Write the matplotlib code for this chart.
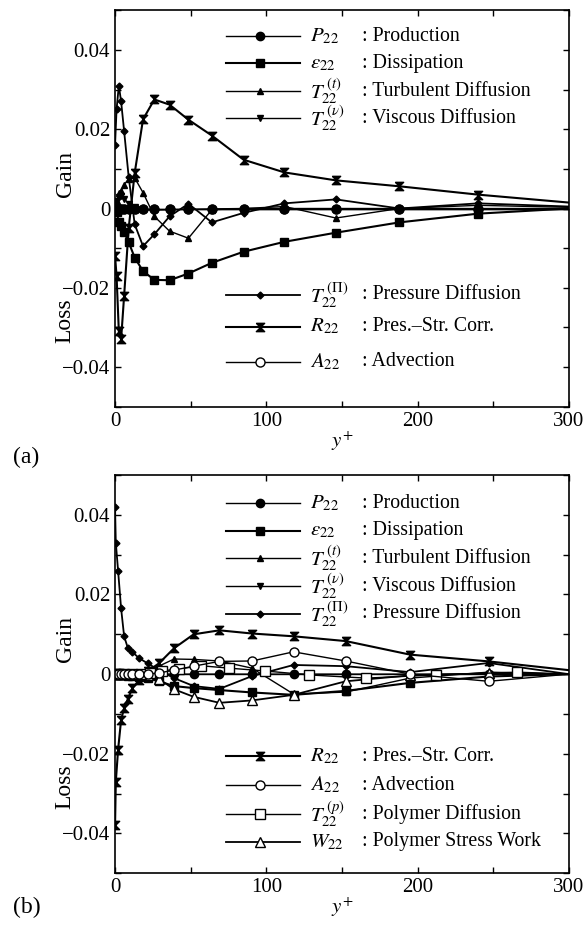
import matplotlib
matplotlib.use("Agg")
import matplotlib.pyplot as plt
from matplotlib.lines import Line2D
from matplotlib.ticker import MultipleLocator

plt.rcParams['font.family'] = ['Liberation Serif', 'DejaVu Serif']
plt.rcParams['mathtext.fontset'] = 'stix'

# (a) wall distance of the sampled points
y_a = [0, 1, 2.5, 4, 6, 9, 13, 18.5, 26, 36, 48.5, 64, 85, 112, 146, 188, 240, 300]
P_a = [0] * len(y_a)
eps_a = [0, -0.001, -0.0033, -0.0045, -0.006, -0.0085, -0.0124, -0.0158, -0.018,
         -0.0181, -0.0164, -0.0137, -0.0109, -0.0084, -0.0061, -0.0035, -0.0013, 0]
Tt_a = [0, 0.002, 0.004, 0.0045, 0.006, 0.0075, 0.0077, 0.004, -0.002, -0.0057,
        -0.0075, -0.0003, 0, 0.0005, -0.0024, 0, 0.0008, 0.0003]
Tv_a = [0, 0.002, 0.003, 0.0032, 0.0025, 0.0012, 0.0003, -0.0003, -0.0004, -0.0003,
        -0.0002, -0.0001, 0, 0, 0, 0, 0, 0]
Tpi_a = [0.016, 0.025, 0.031, 0.027, 0.0195, 0.008, -0.004, -0.0095, -0.0065, -0.002,
         0.0012, -0.0035, -0.0011, 0.0013, 0.0023, 0, 0.0013, 0.0005]
R_a = [-0.012, -0.017, -0.031, -0.033, -0.022, -0.005, 0.009, 0.0225, 0.0275, 0.0262,
       0.0224, 0.0184, 0.0123, 0.0091, 0.0071, 0.0056, 0.0035, 0.0015]
A_a = [0] * len(y_a)

# (b)
y_b = [0, 0.5, 2, 4, 6, 8.5, 11.5, 16, 21.5, 29, 39, 52, 69, 90.5, 118, 152.5, 195, 247, 300]
P_b = [0] * len(y_b)
eps_b = [0, 0, -0.0001, -0.0002, -0.0003, -0.0004, -0.0005, -0.0007, -0.001, -0.0018,
         -0.003, -0.0035, -0.004, -0.0046, -0.0052, -0.0042, -0.0022, -0.0006, 0]
Tt_b = [0, 0, 0, 0, 0, 0.0001, 0.0002, 0.0005, 0.001, 0.002, 0.0038, 0.0037, 0.0033,
        0.0015, -0.005, -0.0045, -0.001, 0.0005, 0]
Tv_b = [0, 0.0003, 0.0005, 0.0005, 0.0004, 0.0003, 0.0002, 0.0001, 0, 0, 0, 0, 0,
        0, 0, 0, 0, 0, 0]
Tpi_b = [0.042, 0.033, 0.026, 0.0165, 0.0095, 0.0065, 0.0055, 0.004, 0.0027, 0.001,
         -0.001, -0.003, -0.0037, -0.0005, 0.0023, 0.002, 0.0005, 0.0028, 0]
R_b = [-0.038, -0.027, -0.019, -0.0115, -0.0085, -0.0062, -0.0035, -0.0015, 0.0007,
       0.0027, 0.0065, 0.0100, 0.0110, 0.0102, 0.0095, 0.0083, 0.0049, 0.0032, 0.0010]
A_b = [0, 0, 0, 0, 0, 0, 0, 0, 0, 0.0003, 0.001, 0.002, 0.0032, 0.0033, 0.0056,
       0.0033, 0, -0.0018, 0]
W_b = [0, 0, 0, 0, 0, 0, 0, 0, -0.0003, -0.0012, -0.0038, -0.0057, -0.0072, -0.0066,
       -0.0052, -0.0018, -0.0003, 0.0002, 0]
y_p = [0, 2, 6, 11.5, 17, 23, 31, 42, 57, 75.5, 99, 128.5, 166, 212, 266, 300]
Tp_b = [0, 0, 0, 0, 0, 0.0002, 0.0008, 0.0013, 0.0021, 0.0015, 0.0008, -0.0002,
        -0.001, -0.0002, 0.0005, 0]

hourglass = [(-1, 1), (1, 1), (-1, -1), (1, -1), (-1, 1)]

# name -> (symbol, description, marker, size, filled, linewidth)
styles = {
    'P': (r'$P_{22}$', ': Production', 'o', 6, True, 1.0),
    'eps': (r'$\varepsilon_{22}$', ': Dissipation', 's', 6, True, 1.5),
    'Tt': (r'$T_{22}^{\;(t)}$', ': Turbulent Diffusion', '^', 5, True, 1.0),
    'Tv': (r'$T_{22}^{\;(\nu)}$', ': Viscous Diffusion', 'v', 5, True, 1.0),
    'Tpi': (r'$T_{22}^{\;(\Pi)}$', ': Pressure Diffusion', 'D', 3.5, True, 1.3),
    'R': (r'$R_{22}$', ': Pres.\u2013Str. Corr.', hourglass, 6, True, 1.5),
    'A': (r'$A_{22}$', ': Advection', 'o', 6.5, False, 1.0),
    'Tp': (r'$T_{22}^{\;(p)}$', ': Polymer Diffusion', 's', 6.5, False, 1.0),
    'W': (r'$W_{22}$', ': Polymer Stress Work', '^', 6.5, False, 1.3),
}


def line_kw(key):
    sym, desc, mk, ms, filled, lw = styles[key]
    return dict(color='black', lw=lw, marker=mk, ms=ms,
                mfc='black' if filled else 'white', mec='black', mew=1.0)


def draw_series(ax, x, y, key):
    ax.plot(x, y, markevery=slice(0, -1), clip_on=True, **line_kw(key))


def draw_legend(ax, keys, rows):
    for key, yy in zip(keys, rows):
        sym, desc = styles[key][0], styles[key][1]
        ax.add_line(Line2D([0.244, 0.407], [yy, yy], transform=ax.transAxes,
                           markevery=[], **line_kw(key)))
        ax.add_line(Line2D([0.319], [yy], transform=ax.transAxes,
                           **{k: v for k, v in line_kw(key).items() if k != 'lw'},
                           lw=0))
        ax.text(0.43, yy, sym, transform=ax.transAxes, fontsize=15, va='center')
        ax.text(0.544, yy, desc, transform=ax.transAxes, fontsize=14.3, va='center')


def style_axes(ax, tag, tag_y):
    ax.set_xlim(0, 300)
    ax.set_ylim(-0.05, 0.05)
    ax.set_xticks([0, 100, 200, 300])
    ax.set_yticks([-0.04, -0.02, 0, 0.02, 0.04])
    ax.set_yticklabels(['\u22120.04', '\u22120.02', '0', '0.02', '0.04'])
    ax.xaxis.set_minor_locator(MultipleLocator(50))
    ax.yaxis.set_minor_locator(MultipleLocator(0.01))
    ax.tick_params(which='both', direction='in', top=True, right=True,
                   length=4, width=1, labelsize=15)
    for s in ax.spines.values():
        s.set_linewidth(1.2)
    ax.set_xlabel(r'$y^{+}$', fontsize=15, labelpad=-1)
    ax.text(-0.11, 0.588, 'Gain', transform=ax.transAxes, rotation=90,
            fontsize=17, ha='center', va='center')
    ax.text(-0.11, 0.218, 'Loss', transform=ax.transAxes, rotation=90,
            fontsize=17, ha='center', va='center')
    ax.text(-0.225, tag_y, tag, transform=ax.transAxes, fontsize=17,
            ha='left', va='center')


fig = plt.figure(figsize=(5.87, 9.35), dpi=100)
ax1 = fig.add_axes([0.196, 0.565, 0.773, 0.424])
ax2 = fig.add_axes([0.196, 0.066, 0.773, 0.426])

# (a)
draw_series(ax1, y_a, A_a, 'A')
draw_series(ax1, y_a, Tv_a, 'Tv')
draw_series(ax1, y_a, Tt_a, 'Tt')
draw_series(ax1, y_a, Tpi_a, 'Tpi')
draw_series(ax1, y_a, eps_a, 'eps')
draw_series(ax1, y_a, R_a, 'R')
draw_series(ax1, y_a, P_a, 'P')
style_axes(ax1, '(a)', -0.128)
draw_legend(ax1, ['P', 'eps', 'Tt', 'Tv'], [0.934, 0.866, 0.796, 0.728])
draw_legend(ax1, ['Tpi', 'R', 'A'], [0.282, 0.2015, 0.113])

# (b)
draw_series(ax2, y_b, Tv_b, 'Tv')
draw_series(ax2, y_b, Tt_b, 'Tt')
draw_series(ax2, y_b, eps_b, 'eps')
draw_series(ax2, y_b, P_b, 'P')
draw_series(ax2, y_b, Tpi_b, 'Tpi')
draw_series(ax2, y_b, R_b, 'R')
draw_series(ax2, y_b, W_b, 'W')
draw_series(ax2, y_p, Tp_b, 'Tp')
draw_series(ax2, y_b, A_b, 'A')
style_axes(ax2, '(b)', -0.085)
draw_legend(ax2, ['P', 'eps', 'Tt', 'Tv', 'Tpi'], [0.929, 0.860, 0.791, 0.721, 0.651])
draw_legend(ax2, ['R', 'A', 'Tp', 'W'], [0.294, 0.221, 0.148, 0.0786])

fig.savefig('out.png', dpi=100)
